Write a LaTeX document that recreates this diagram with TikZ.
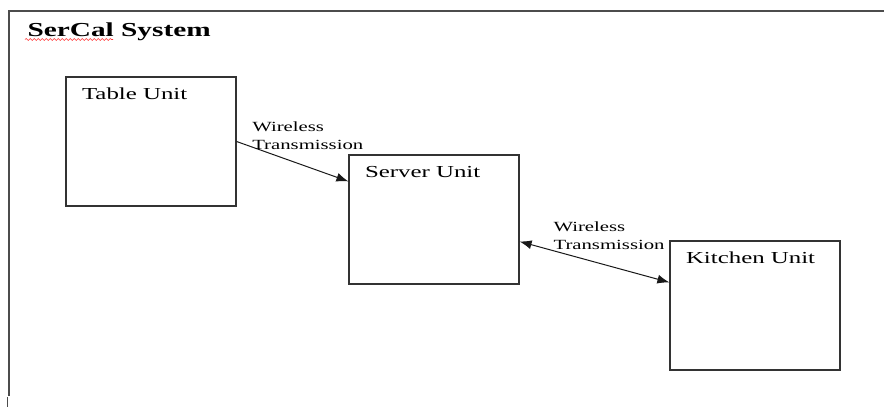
\documentclass[tikz,border=0pt]{standalone}
\usepackage{fontspec}
\setmainfont{Liberation Serif}
\newfontfamily\wideserif[FakeStretch=1.48]{Liberation Serif}
\usetikzlibrary{positioning}
\usetikzlibrary{calc}
\usetikzlibrary{arrows.meta}
\usetikzlibrary{decorations.pathmorphing}
\tikzset{every picture/.style={line width=1.2pt}}

\begin{document}
\begin{tikzpicture}[x=1pt,y=-1pt,
unit/.style={draw=black!80, minimum width=170pt, minimum height=129pt, inner sep=0pt},
uname/.style={font=\wideserif\fontsize{16.8}{20}\selectfont, anchor=base west, inner sep=0pt},
wlabel/.style={font=\wideserif\fontsize{14}{18}\selectfont, align=left, anchor=north west, inner sep=0pt},
link/.style={draw=black!90, line width=1pt, -{Latex[length=12pt,width=9pt]}},
duplex/.style={draw=black!90, line width=1pt, {Latex[length=12pt,width=9pt]}-{Latex[length=12pt,width=9pt]}}]
\useasboundingbox (0,0) rectangle (884,407);
% frame round the system
\draw[black!70, line width=1.6pt] (884,11) -- (9,11) -- (9,396);
\draw[black!70, line width=1.2pt] (7.5,397) -- (7.5,407);
\node (title) [font=\wideserif\fontsize{19.8}{24}\selectfont\bfseries, anchor=base west, inner sep=0pt] at (27,36) {SerCal System};
\draw[red!80, line width=0.6pt, decorate, decoration={snake, amplitude=1pt, segment length=4pt}] (25,39.5) -- (113,39.5);

% the three units
\node (table) [unit] at (151,141.5) {};
\node (server) [unit] at (434,219.5) {};
\node (kitchen) [unit] at (755,305.5) {};
\foreach \n/\t in {table/Table Unit,server/Server Unit,kitchen/Kitchen Unit} {
\node (\n-name) [uname] at ($(\n.north west)+(16,23.5)$) {\t};
}

% wireless links
\draw[link] (table.east) -- ($(server.north west)+(0,27)$);
\draw[duplex] ($(server.east)+(0,22)$) -- ($(kitchen.north west)+(0,42)$);
\node (wl1) [wlabel] at (251.7,120.7) {Wireless\\Transmission};
\node (wl2) [wlabel] at (553,221) {Wireless\\Transmission};
\end{tikzpicture}
\end{document}
